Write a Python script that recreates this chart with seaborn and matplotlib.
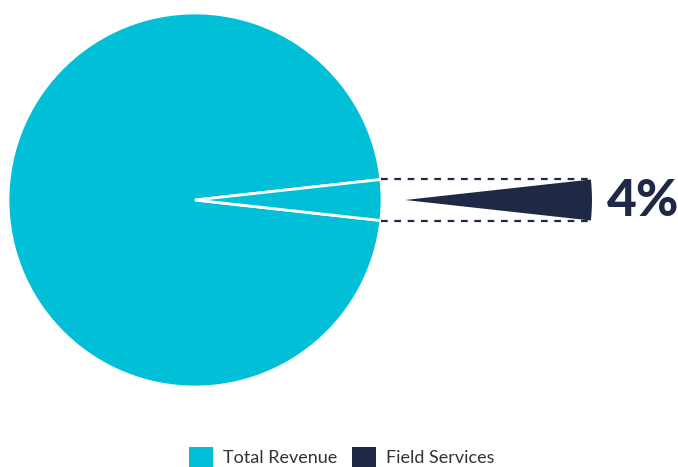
import numpy as np
import matplotlib
matplotlib.use("Agg")
import matplotlib.pyplot as plt
from matplotlib.patches import Patch
import seaborn as sns

categories = ["Total Revenue", "Field Services"]
shares = [96.5, 3.5]
label_text = "4%"

sns.set_theme(style="white")
plt.rcParams['font.family'] = ['Lato', 'DejaVu Sans']

cyan = "#00bfd6"
navy = "#1f2945"
palette = sns.color_palette([cyan, navy])

W, H = 678, 467
fig = plt.figure(figsize=(W / 100, H / 100), dpi=100)
ax = fig.add_axes([0, 0, 1, 1])
ax.set_xlim(0, W)
ax.set_ylim(0, H)
ax.set_aspect('equal')
ax.axis('off')

cx, cy, r = 195, 267, 187
half = shares[1] / sum(shares) * 360 / 2

# main pie (both slices in cyan, separated by white edges)
ax.pie(shares, colors=[palette[0], palette[0]], startangle=half,
       center=(cx, cy), radius=r, counterclock=True,
       wedgeprops=dict(edgecolor='white', linewidth=2))

# exploded small wedge
ex = 405
ax.pie([shares[1], shares[0]], colors=[palette[1], (0, 0, 0, 0)],
       startangle=-half, center=(ex, cy), radius=r,
       wedgeprops=dict(linewidth=0))

# dashed connectors
dy = r * np.sin(np.radians(half))
x0 = cx + r * np.cos(np.radians(half))
x1 = ex + r * np.cos(np.radians(half))
for s in (1, -1):
    ax.plot([x0, x1], [cy + s * dy, cy + s * dy], color=navy, lw=1.6,
            ls=(0, (3, 3)))

ax.set_xlim(0, W)
ax.set_ylim(0, H)

ax.text(607, cy - 2, label_text, color=navy, fontsize=37, fontweight='black',
        ha='left', va='center')

handles = [Patch(facecolor=palette[i], edgecolor='none', label=c)
           for i, c in enumerate(categories)]
fig.legend(handles=handles, loc='lower center', bbox_to_anchor=(342 / W, -0.035),
           ncol=2, frameon=False, fontsize=13, handlelength=1.3,
           handleheight=1.3, handletextpad=0.6, columnspacing=0.8,
           labelcolor='#333333')

fig.savefig("out.png", dpi=100)
